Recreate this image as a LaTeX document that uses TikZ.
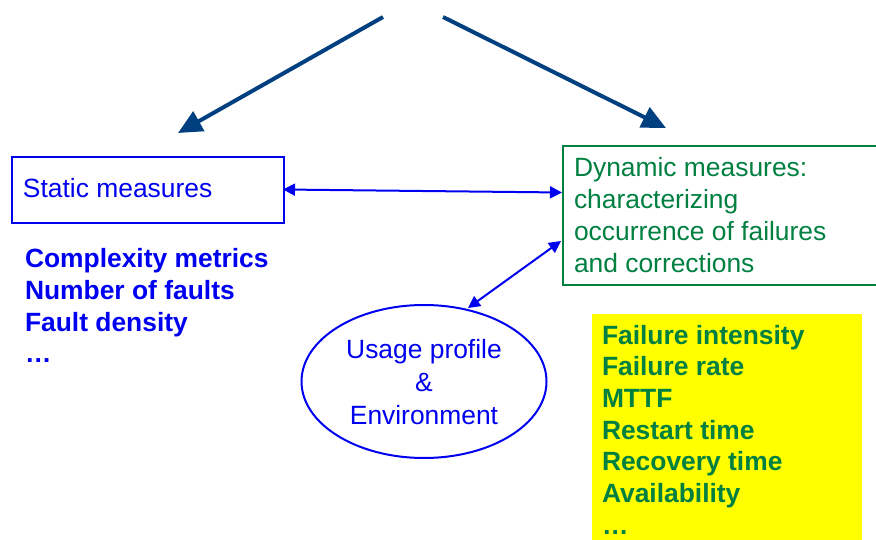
\documentclass[tikz,border=0pt]{standalone}
\usepackage{fontspec}
\setmainfont{Liberation Sans}
\usetikzlibrary{arrows.meta,shapes.geometric}
\definecolor{boxblue}{RGB}{0,0,240}
\definecolor{leafgreen}{RGB}{0,128,64}
\definecolor{navy}{RGB}{0,64,128}
\definecolor{hilite}{RGB}{255,255,0}
\tikzset{
  txt/.style={font=\fontsize{26.4}{32}\selectfont, inner sep=0pt, outer sep=0pt},
  boldlist/.style={txt, font=\fontsize{26.4}{31.7}\selectfont\bfseries, align=left, anchor=north west},
  bigarrow/.style={draw=navy, line width=4pt, -{Triangle[length=24pt,width=22pt]}},
  linkarrow/.style={draw=boxblue, line width=2pt, {Triangle[length=12pt,width=12pt]}-{Triangle[length=12pt,width=12pt]}},
}
\begin{document}
\begin{tikzpicture}[x=1pt,y=-1pt]
\useasboundingbox (0,0) rectangle (876,540);
\clip (0,0) rectangle (876,540);

% static measures box and its list
\draw[boxblue, line width=2pt] (12,157) rectangle (284,223);
\node[txt, text=boxblue, anchor=base west] (static) at (23,198) {Static measures};
\coordinate (staticR) at (283,189.5);
\node[boldlist, text=boxblue] (slist) at (25,248.7)
  {Complexity metrics\\Number of faults\\Fault density\\…};

% dynamic measures box (runs off the right edge)
\draw[leafgreen, line width=2pt] (563,146) rectangle (890,285.5);
\node[txt, text=leafgreen, align=left, anchor=north west] (dyn) at (574,157)
  {Dynamic measures:\\characterizing\\occurrence of failures\\and corrections};
\coordinate (dynA) at (562,192.5);
\coordinate (dynB) at (561,241);

% highlighted list of dynamic measures
\fill[hilite] (592,314) rectangle (862,545);
\node[boldlist, text=leafgreen] (dlist) at (602,325)
  {Failure intensity\\Failure rate\\MTTF\\Restart time\\Recovery time\\Availability\\…};

% usage profile ellipse
\node[ellipse, draw=boxblue, line width=2pt, minimum width=245pt, minimum height=153pt,
      inner sep=0pt] (usage) at (424,381.5) {};
\node[txt, text=boxblue, align=center, font=\fontsize{26.4}{33}\selectfont] (usagetxt) at (424,382)
  {Usage profile\\\&\\Environment};
\coordinate (usageT) at (468,308);

% links
\draw[linkarrow] (staticR) -- (dynA);
\draw[linkarrow] (usageT) -- (dynB);

% arrows from the top
\coordinate (topL) at (383,17);
\coordinate (topR) at (443,17);
\coordinate (tipL) at (178,133);
\coordinate (tipR) at (666,128);
\draw[bigarrow] (topL) -- (tipL);
\draw[bigarrow] (topR) -- (tipR);
\end{tikzpicture}
\end{document}
